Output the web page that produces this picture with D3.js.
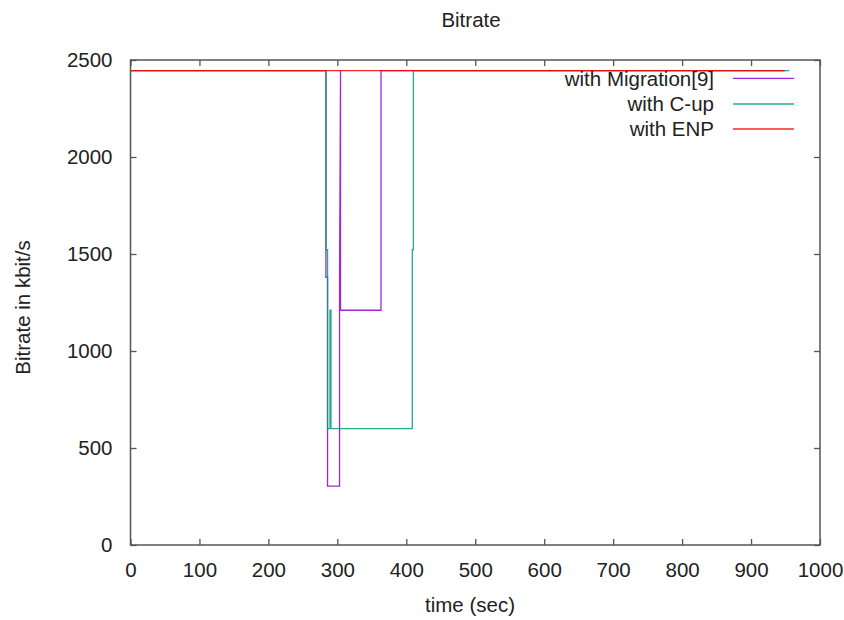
<!DOCTYPE html>
<html>
<head>
<meta charset="utf-8">
<script src="https://cdn.jsdelivr.net/npm/d3@7"></script>
<style>
  html, body { margin: 0; padding: 0; background: #fff; }
  svg { display: block; }
  text { font-family: "Liberation Sans", Arial, sans-serif; fill: #222; }
</style>
</head>
<body>
<svg id="chart" width="844" height="620"></svg>
<script>
// ---- data (time in sec, bitrate in kbit/s) ----
const xTicks = [0, 100, 200, 300, 400, 500, 600, 700, 800, 900, 1000];
const yTicks = [0, 500, 1000, 1500, 2000, 2500];
const seriesNames = ["with Migration[9]", "with C-up", "with ENP"];
const seriesColors = ["#9400d3", "#009e73", "#ff0000"];

const migration = [
  [0, 2445], [283.4, 2445], [283.4, 1380], [285.8, 1380], [285.8, 303],
  [303.2, 303], [303.2, 1380], [304.6, 2445], [304.6, 1210], [363.3, 1210],
  [363.3, 2445], [950, 2445]
];
const cup = [
  [0, 2445], [283.6, 2445], [283.6, 1522], [285.8, 1522], [285.8, 600], [289.3, 600],
  [289.3, 1210], [290.8, 1210], [290.8, 600], [408.7, 600], [408.7, 1522],
  [410.2, 1522], [410.2, 2445], [955.5, 2445]
];
const enp = [
  [0, 2445], [948, 2445]
];
const allSeries = [migration, cup, enp];

// ---- layout ----
const svg = d3.select("#chart");
const mLeft = 130.5, mRight = 820, mTop = 60, mBottom = 545;
const x = d3.scaleLinear().domain([0, 1000]).range([mLeft, mRight]);
const y = d3.scaleLinear().domain([0, 2500]).range([mBottom, mTop]);
const fontSize = 20.5;
const axisColor = "#555";
const fmt = d3.format("d");

// data lines
const line = d3.line().x(d => x(d[0])).y(d => y(d[1]));
allSeries.forEach((s, i) => {
  svg.append("path")
    .datum(s)
    .attr("d", line)
    .attr("fill", "none")
    .attr("stroke", seriesColors[i])
    .attr("stroke-width", 1.3)
    .attr("opacity", 0.85);
});

// border
svg.append("rect")
  .attr("x", mLeft).attr("y", mTop)
  .attr("width", mRight - mLeft).attr("height", mBottom - mTop)
  .attr("fill", "none").attr("stroke", axisColor).attr("stroke-width", 1.5);

// axes using d3 axis generators (inward ticks)
const tickLen = 6;
const xAxisB = d3.axisBottom(x).tickValues(xTicks).tickFormat(fmt).tickSize(-tickLen).tickPadding(12).tickSizeOuter(0);
const xAxisT = d3.axisTop(x).tickValues(xTicks).tickSize(-tickLen).tickFormat("").tickSizeOuter(0);
const yAxisL = d3.axisLeft(y).tickValues(yTicks).tickFormat(fmt).tickSize(-tickLen).tickPadding(18).tickSizeOuter(0);
const yAxisR = d3.axisRight(y).tickValues(yTicks).tickSize(-tickLen).tickFormat("").tickSizeOuter(0);

function styleAxis(g) {
  g.select(".domain").remove();
  g.selectAll(".tick line").attr("stroke", axisColor).attr("stroke-width", 1.3);
  g.selectAll(".tick text")
    .attr("font-size", fontSize)
    .attr("font-family", "Liberation Sans, Arial, sans-serif")
    .attr("fill", "#222");
}
svg.append("g").attr("transform", `translate(0,${mBottom})`).call(xAxisB).call(styleAxis)
  .selectAll(".tick text").attr("dy", "0.71em").attr("y", 17);
svg.append("g").attr("transform", `translate(0,${mTop})`).call(xAxisT).call(styleAxis);
svg.append("g").attr("transform", `translate(${mLeft},0)`).call(yAxisL).call(styleAxis);
svg.append("g").attr("transform", `translate(${mRight},0)`).call(yAxisR).call(styleAxis);

// title & labels
svg.append("text").attr("x", 471).attr("y", 26.5).attr("text-anchor", "middle")
  .attr("font-size", fontSize).text("Bitrate");
svg.append("text").attr("x", 470).attr("y", 612).attr("text-anchor", "middle")
  .attr("font-size", fontSize).text("time (sec)");
svg.append("text")
  .attr("transform", "translate(30,307.5) rotate(-90)")
  .attr("text-anchor", "middle")
  .attr("font-size", fontSize).text("Bitrate in kbit/s");

// legend
const legendY = [78.3, 104, 129];
seriesNames.forEach((name, i) => {
  svg.append("text").attr("x", 714).attr("y", legendY[i]).attr("dy", "0.36em")
    .attr("text-anchor", "end").attr("font-size", fontSize).text(name);
  svg.append("line")
    .attr("x1", 733).attr("x2", 794)
    .attr("y1", legendY[i]).attr("y2", legendY[i])
    .attr("stroke", seriesColors[i]).attr("stroke-width", 1.3).attr("opacity", 0.85);
});
</script>
</body>
</html>
